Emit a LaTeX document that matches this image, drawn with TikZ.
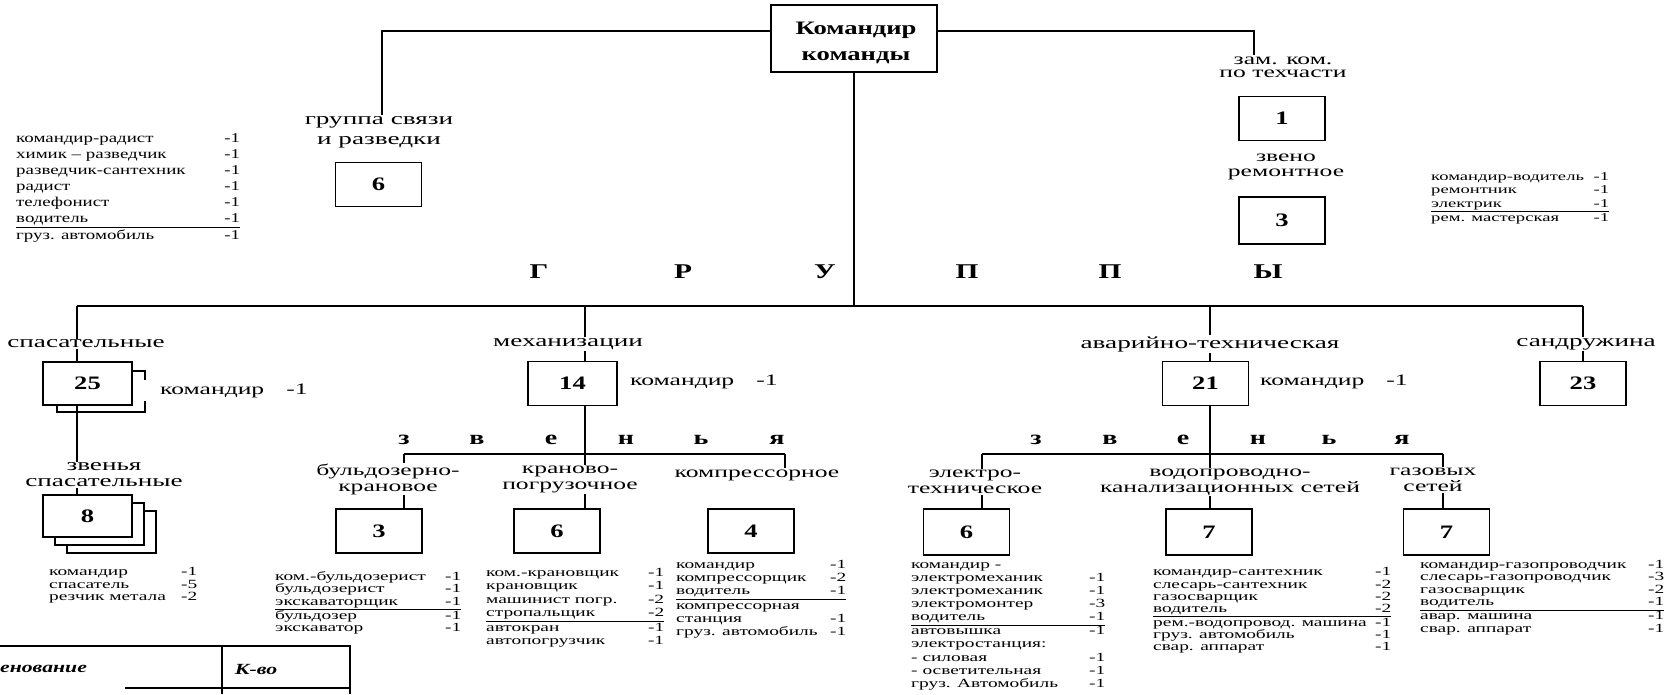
\documentclass[tikz,border=0pt]{standalone}
\usepackage{fontspec}
\setmainfont[FakeStretch=1.4]{Liberation Serif}
\newfontfamily\lf[FakeStretch=1.55]{Liberation Serif}
\newfontfamily\labf[FakeStretch=1.6]{Liberation Serif}
\newcommand\fs[2]{\fontsize{#1}{#2}\selectfont}
\setlength\arrayrulewidth{1pt}
\pgfdeclarelayer{bg}
\pgfsetlayers{bg,main}
\tikzset{
 ln/.style={line width=1.4pt},
 box/.style={draw, line width=1.7pt, minimum width=86pt, minimum height=44pt, inner sep=0pt, fill=white, font=\fs{19}{22}\bfseries},
 lab/.style={align=center, inner sep=1pt, fill=white, font=\labf\fs{17}{16}},
 lab3/.style={lab, font=\labf\fs{16}{16}},
 big/.style={font=\fs{21}{24}\bfseries, inner sep=0pt},
 zv/.style={font=\fs{20}{24}\bfseries, inner sep=0pt},
 lst/.style={anchor=north west, inner sep=0pt},
 cmd/.style={anchor=west, inner sep=0pt, font=\labf\fs{16}{18}},
}
\begin{document}
\begin{tikzpicture}[x=1pt,y=-1pt]
\useasboundingbox (0,0) rectangle (1674,694);
% top
\node[box, minimum width=166pt, minimum height=67pt] (top) at (854,38.5) {};
\node[align=center, inner sep=0pt, font=\fs{19}{26}\bfseries] (toptxt) at (856,43) {Командир\\команды};
\node[lab] (lsv) at (379,132) {группа связи\\[4pt]и разведки};
\node[box] (b6s) at (378.5,184.5) {6};
\node[lab, font=\labf\fs{16}{13}] (lzam) at (1283,67) {зам. ком.\\по техчасти};
\node[box] (b1) at (1282,118.5) {1};
\node[lab, font=\labf\fs{16}{15}] (lzr) at (1286,167) {звено\\ремонтное};
\node[box, minimum height=47pt] (b3r) at (1282,220.5) {3};
% groups letters
\foreach \x/\t in {539/Г,683/Р,825/У,967/П,1110/П,1268/Ы}{\node[big] at (\x,272) {\t};}
% level 2
\node[box, minimum width=89pt, minimum height=43pt] (b25) at (87.5,383.5) {25};
\node[box, minimum width=89pt] (b14) at (572.5,383.5) {14};
\node[box] (b21) at (1205.5,383.5) {21};
\node[box] (b23) at (1583,383.5) {23};
\node[lab] (lsp) at (86,344) {спасательные};
\node[lab] (lmh) at (568,344) {механизации};
\node[lab] (lav) at (1210,344) {аварийно-техническая};
\node[lab] (lsd) at (1586,344) {сандружина};
\node[cmd] (c25) at (160,391) {командир\hspace{22pt}-1};
\node[cmd] (c14) at (630,382) {командир\hspace{22pt}-1};
\node[cmd] (c21) at (1260,382) {командир\hspace{22pt}-1};
% stacked 8
\node[box, minimum width=89pt, minimum height=42pt] (b8c) at (111.5,532) {};
\node[box, minimum width=89pt, minimum height=42pt] (b8b) at (99.5,524) {};
\node[box, minimum width=89pt, minimum height=42pt] (b8) at (87.5,516) {8};
\node[lab] (lzs) at (104,475) {звенья\\спасательные};
% zvenya letters
\foreach \x/\t in {404/з,477/в,551/е,626/н,701/ь,777/я,1036/з,1110/в,1183/е,1258/н,1329/ь,1402/я}{\node[zv] at (\x,440) {\t};}
% level 3 boxes
\node[box] (bb3) at (379,531) {3};
\node[box] (bb6) at (557,531) {6};
\node[box] (bb4) at (751,531) {4};
\node[box, minimum height=46pt] (be6) at (966.5,532) {6};
\node[box, minimum height=46pt] (bv7) at (1209,532) {7};
\node[box, minimum height=46pt] (bg7) at (1446.5,532) {7};
\node[lab3] (lbk) at (388,479) {бульдозерно-\\крановое};
\node[lab3] (lkp) at (570,479) {краново-\\погрузочное};
\node[lab3] (lkm) at (757,475) {компрессорное};
\node[lab3] (let) at (975,482) {электро-\\техническое};
\node[lab3] (lvk) at (1230,482) {водопроводно-\\канализационных сетей};
\node[lab3] (lgs) at (1433,480) {газовых\\сетей};
% coordinates
\coordinate (tl) at (382,31);
\coordinate (tr) at (1254,31);
\coordinate (bl) at (77,306);
\coordinate (br) at (1583,306);
\coordinate (dm) at (585,306);
\coordinate (da) at (1210,306);
\coordinate (zm1) at (404,454);
\coordinate (zm3) at (785,454);
\coordinate (za1) at (982,454);
\coordinate (za3) at (1443,454);
\begin{pgfonlayer}{bg}
\draw[ln] (tl -| top.west) -- (tl) -- (tl |- lsv.north);
\draw[ln] (tr -| top.east) -- (tr) -- (tr |- lzam.north);
\draw[ln] (top.south) -- (top.south |- bl);
\draw[ln] (bl) -- (br);
\draw[ln] (bl) -- (bl |- b25.north);
\draw[ln] (dm) -- (dm |- b14.north);
\draw[ln] (da) -- (da |- b21.north);
\draw[ln] (br) -- (b23.north);
\draw[ln] (bl |- b25.south) -- (bl |- b8.north);
\draw[ln] (dm |- b14.south) -- (dm |- zm1);
\draw[ln] (zm1) -- (zm3);
\draw[ln] (zm1) -- (zm1 |- bb3.north);
\draw[ln] (dm |- zm1) -- (dm |- bb6.north);
\draw[ln] (zm3) -- (zm3 |- lkm.north);
\draw[ln] (da |- b21.south) -- (da |- za1);
\draw[ln] (za1) -- (za3);
\draw[ln] (za1) -- (za1 |- be6.north);
\draw[ln] (da |- za1) -- (da |- bv7.north);
\draw[ln] (za3) -- (za3 |- bg7.north);
\end{pgfonlayer}
% bracket behind 25
\draw[ln] (132,371) -- (145,371) -- (145,380);
\draw[ln] (145,401) -- (145,412) -- (57,412) -- (57,406);
% lists
\node[lst] (ltl) at (16,131) {\fs{13.5}{16}\begin{tabular*}{224pt}{@{}l@{\extracolsep{\fill}}r@{}}
командир-радист & -1\\
химик -- разведчик & -1\\
разведчик-сантехник & -1\\
радист & -1\\
телефонист & -1\\
водитель & -1\\ \hline
груз. автомобиль & -1
\end{tabular*}};
\node[lst] (lrt) at (1431,171) {\lf\fs{12}{13.4}\begin{tabular*}{178pt}{@{}l@{\extracolsep{\fill}}r@{}}
командир-водитель & -1\\
ремонтник & -1\\
электрик & -1\\ \hline
рем. мастерская & -1
\end{tabular*}};
\node[lst] (lsl) at (49,567) {\lf\fs{12.5}{12.5}\begin{tabular*}{148pt}{@{}l@{\extracolsep{\fill}}r@{}}
командир & -1\\
спасатель & -5\\
резчик метала & -2
\end{tabular*}};
\node[lst] (lbl) at (275,571) {\lf\fs{12.5}{12.5}\begin{tabular*}{186pt}{@{}l@{\extracolsep{\fill}}r@{}}
ком.-бульдозерист & -1\\
бульдозерист & -1\\
экскаваторщик & -1\\ \hline
бульдозер & -1\\
экскаватор & -1
\end{tabular*}};
\node[lst] (lkl) at (486,567) {\lf\fs{12.5}{13.4}\begin{tabular*}{178pt}{@{}l@{\extracolsep{\fill}}r@{}}
ком.-крановщик & -1\\
крановщик & -1\\
машинист погр. & -2\\
стропальщик & -2\\ \hline
автокран & -1\\
автопогрузчик & -1
\end{tabular*}};
\node[lst] (lml) at (676,559) {\lf\fs{12.5}{13.2}\begin{tabular*}{170pt}{@{}l@{\extracolsep{\fill}}r@{}}
командир & -1\\
компрессорщик & -2\\
водитель & -1\\ \hline
компрессорная & \\
станция & -1\\
груз. автомобиль & -1
\end{tabular*}};
\node[lst] (lel) at (911,559) {\lf\fs{12.5}{13.1}\begin{tabular*}{194pt}{@{}l@{\extracolsep{\fill}}r@{}}
командир - & \\
электромеханик & -1\\
электромеханик & -1\\
электромонтер & -3\\
водитель & -1\\ \hline
автовышка & -1\\
электростанция: & \\
- силовая & -1\\
- осветительная & -1\\
груз. Автомобиль & -1
\end{tabular*}};
\node[lst] (lvl) at (1153,567) {\lf\fs{12.5}{12.3}\begin{tabular*}{238pt}{@{}l@{\extracolsep{\fill}}r@{}}
командир-сантехник & -1\\
слесарь-сантехник & -2\\
газосварщик & -2\\
водитель & -2\\ \hline
рем.-водопровод. машина & -1\\
груз. автомобиль & -1\\
свар. аппарат & -1
\end{tabular*}};
\node[lst] (lgl) at (1420,559) {\lf\fs{12.5}{12.6}\begin{tabular*}{244pt}{@{}l@{\extracolsep{\fill}}r@{}}
командир-газопроводчик & -1\\
слесарь-газопроводчик & -3\\
газосварщик & -2\\
водитель & -1\\ \hline
авар. машина & -1\\
свар. аппарат & -1
\end{tabular*}};
% table
\coordinate (ta) at (0,646);
\coordinate (tb) at (350,646);
\coordinate (tc) at (222,646);
\coordinate (td) at (125,688);
\draw[ln] (ta) -- (tb) -- (tb |- 0,694);
\draw[ln] (tc) -- (tc |- 0,694);
\draw[ln] (td) -- (td -| tb);
\node[anchor=west, inner sep=0pt, font=\fs{15.5}{18}\bfseries\itshape] (th1) at (0,669) {енование};
\node[inner sep=0pt, font=\fs{15.5}{18}\bfseries\itshape] (th2) at (256,669) {К-во};
\end{tikzpicture}
\end{document}
